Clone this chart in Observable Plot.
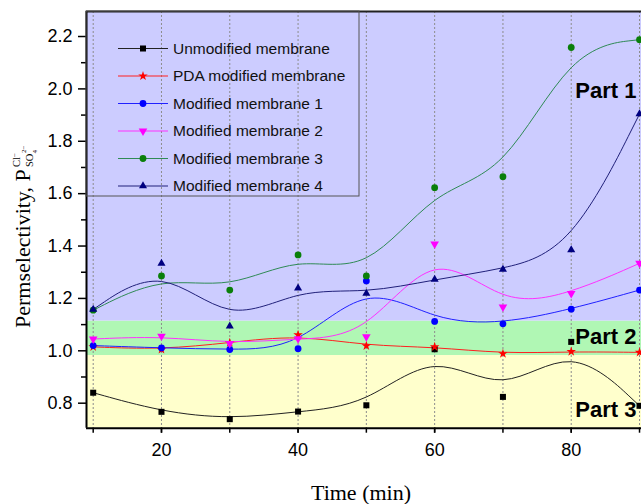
<!DOCTYPE html>
<html><head><meta charset="utf-8">
<script src="https://cdn.jsdelivr.net/npm/d3@7"></script>
<script src="https://cdn.jsdelivr.net/npm/@observablehq/plot@0.6"></script>
<style>
body{margin:0;background:#fff}
#chart{position:relative;width:641px;height:504px}
</style>
</head><body><div id="chart"></div>
<script>
// ---- data ----
const times = [10, 20, 30, 40, 50, 60, 70, 80, 90];
const unmodified = [0.840, 0.767, 0.739, 0.768, 0.792, 1.006, 0.824, 1.034, 0.790];
const pdaModified = [1.015, 1.005, 1.031, 1.061, 1.019, 1.015, 0.989, 0.997, 0.994];
const modified1 = [1.020, 1.011, 1.005, 1.008, 1.267, 1.112, 1.103, 1.159, 1.232];
const modified2 = [1.045, 1.056, 1.028, 1.046, 1.054, 1.408, 1.167, 1.219, 1.334];
const modified3 = [1.155, 1.286, 1.232, 1.366, 1.286, 1.623, 1.665, 2.158, 2.188];
const modified4 = [1.158, 1.334, 1.094, 1.239, 1.219, 1.273, 1.311, 1.385, 1.904];
const seriesNames = ["Unmodified membrane", "PDA modified membrane", "Modified membrane 1",
  "Modified membrane 2", "Modified membrane 3", "Modified membrane 4"];
const seriesValues = [unmodified, pdaModified, modified1, modified2, modified3, modified4];
const yMajorTicks = [0.8, 1.0, 1.2, 1.4, 1.6, 1.8, 2.0, 2.2];
const yMinorTicks = [0.9, 1.1, 1.3, 1.5, 1.7, 1.9, 2.1];
const xLabelTicks = [20, 40, 60, 80];
const bandLimits = [0.982, 1.1136];          // Part 3 | Part 2 | Part 1 boundaries
const partLabels = ["Part 1", "Part 2", "Part 3"];
const partValues = [1.994, 1.054, 0.773];

// ---- styles ----
const markerColors = ["#000000", "#ff0000", "#0000ff", "#ff00ff", "#0a7f0a", "#000080"];
const lineColors = ["#222222", "#ff2020", "#2020ff", "#ff30ff", "#2f8a55", "#20207a"];
const bandColors = ["#ffffcc", "#b0f7b4", "#ccccff"];
const xDomain = [9.02, 90.29];
const yDomain = [0.7045, 2.2955];

const triangleDown = {
  draw(context, size) {
    const s3 = Math.sqrt(3);
    const y = Math.sqrt(size / (s3 * 3));
    context.moveTo(0, y * 2);
    context.lineTo(-s3 * y, -y);
    context.lineTo(s3 * y, -y);
    context.closePath();
  }
};
const symbols = [d3.symbolSquare, d3.symbolStar, d3.symbolCircle, triangleDown, d3.symbolCircle, d3.symbolTriangle];
const symbolNames = ["square", "star", "circle", triangleDown, "circle", "triangle"];
const radii = [3.4, 3.0, 3.4, 3.2, 3.4, 3.0];

// ---- derived tables ----
const bands = [
  {lo: yDomain[0], hi: bandLimits[0], color: bandColors[0]},
  {lo: bandLimits[0], hi: bandLimits[1], color: bandColors[1]},
  {lo: bandLimits[1], hi: yDomain[1], color: bandColors[2]}
];
const rows = [];
seriesValues.forEach((vals, i) => times.forEach((t, j) => rows.push({i, series: seriesNames[i], time: t, value: vals[j]})));
const parts = partLabels.map((label, k) => ({label, y: partValues[k]}));

const marks = [
  Plot.rect(bands, {x1: () => xDomain[0], x2: () => xDomain[1], y1: "lo", y2: "hi", fill: "color"}),
  Plot.ruleX(times, {stroke: "#8c8c8c", strokeDasharray: "2,2", strokeWidth: 1}),
  ...seriesNames.map((n, i) => Plot.line(rows.filter(d => d.i === i), {
    x: "time", y: "value", curve: "basis", stroke: lineColors[i], strokeWidth: 1})),
  ...seriesNames.map((n, i) => Plot.dot(rows.filter(d => d.i === i), {
    x: "time", y: "value", symbol: symbolNames[i], r: radii[i], fill: markerColors[i], stroke: "none"})),
  Plot.text(parts, {x: () => times[times.length - 1], y: "y", text: "label", textAnchor: "end", dx: -3,
    fontSize: 22, fontWeight: "bold", fill: "#000"}),
  Plot.ruleY([yDomain[1]], {stroke: "#222", strokeWidth: 2}),
  Plot.ruleY([yDomain[0]], {stroke: "#000", strokeWidth: 2}),
  Plot.ruleX([xDomain[0]], {stroke: "#000", strokeWidth: 2}),
  Plot.axisY(yMajorTicks, {anchor: "left", tickSize: 8, tickPadding: 6, tickFormat: d => d.toFixed(1),
    fontSize: 18, strokeWidth: 1.5, label: null}),
  Plot.axisY(yMinorTicks, {anchor: "left", tickSize: 5, tickFormat: () => "", strokeWidth: 1.5, label: null}),
  Plot.axisX(times, {anchor: "bottom", tickSize: 5, tickFormat: () => "", strokeWidth: 1.5, label: null}),
  Plot.axisX(xLabelTicks, {anchor: "bottom", tickSize: 5, tickPadding: 10, fontSize: 18, strokeWidth: 1.5, label: null})
];

const chart = Plot.plot({
  width: 641, height: 504,
  marginLeft: 86, marginRight: 0, marginTop: 11, marginBottom: 76.3,
  style: {fontFamily: "'Liberation Sans', Arial, sans-serif", fontSize: "18px", background: "transparent", color: "#000"},
  x: {domain: xDomain, label: null},
  y: {domain: yDomain, label: null},
  color: {type: "identity"},
  marks
});
document.getElementById("chart").appendChild(chart);

// ---- titles & legend ----
const svg = d3.select(chart);
const serif = "'Liberation Serif', 'Times New Roman', serif";
svg.append("text").attr("x", 361).attr("y", 500).attr("text-anchor", "middle")
  .attr("font-family", serif).attr("font-size", 22).attr("fill", "#000").text("Time (min)");

const yt = svg.append("text").attr("transform", "translate(29.5,328) rotate(-90)")
  .attr("text-anchor", "start")
  .attr("font-family", serif).attr("font-size", 22).attr("fill", "#000");
yt.append("tspan").attr("x", 0).attr("y", 0).text("Permselectivity, P");
yt.append("tspan").attr("x", 161).attr("y", -9.5).attr("font-size", 10.5).text("Cl");
yt.append("tspan").attr("y", -13).attr("font-size", 7).text("\u2212");
yt.append("tspan").attr("x", 161).attr("y", 3.5).attr("font-size", 10.5).text("SO");
yt.append("tspan").attr("y", 7).attr("font-size", 7).text("4");
yt.append("tspan").attr("x", 175).attr("y", -4).attr("font-size", 7).text("2\u2212");

const lg = svg.append("g").attr("text-anchor", "start");
lg.append("rect").attr("x", 86).attr("y", 11).attr("width", 273).attr("height", 185)
  .attr("fill", "none").attr("stroke", "#555").attr("stroke-width", 1);
seriesNames.forEach((name, i) => {
  const cy = 48.5 + i * 27.5;
  lg.append("line").attr("x1", 118).attr("x2", 168).attr("y1", cy).attr("y2", cy)
    .attr("stroke", lineColors[i]).attr("stroke-width", 1);
  lg.append("path").attr("transform", `translate(143,${cy})`)
    .attr("d", d3.symbol(symbols[i], Math.PI * radii[i] * radii[i])())
    .attr("fill", markerColors[i]);
  lg.append("text").attr("x", 173).attr("y", cy).attr("dy", "0.35em").attr("text-anchor", "start")
    .attr("font-family", "'Liberation Sans', Arial, sans-serif").attr("font-size", 15.5)
    .attr("fill", "#111").text(name);
});
</script>
</body></html>
